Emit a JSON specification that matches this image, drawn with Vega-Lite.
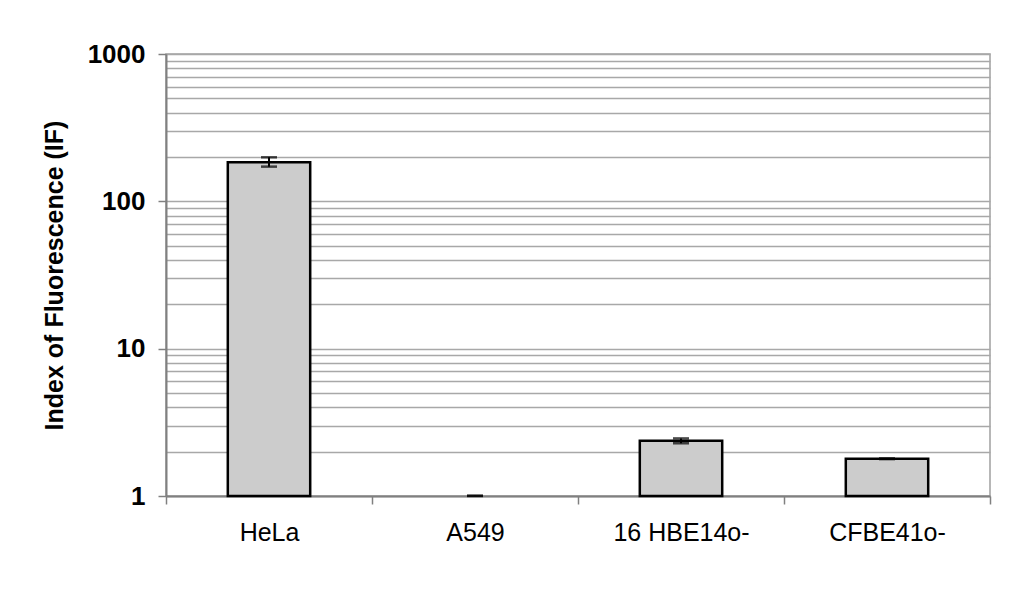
{
  "$schema": "https://vega.github.io/schema/vega-lite/v6.json",
  "width": 824,
  "height": 442,
  "autosize": {"type": "none"},
  "padding": {"left": 166, "top": 54, "right": 34, "bottom": 95},
  "background": "white",
  "config": {
    "font": "Liberation Sans",
    "view": {"stroke": "#a0a0a0", "strokeWidth": 1.5}
  },
  "data": {
    "values": [
      {"cell": "HeLa", "value": 184, "lo": 172, "hi": 199},
      {"cell": "A549", "value": 1.0, "lo": 1.0, "hi": 1.005},
      {"cell": "16 HBE14o-", "value": 2.37, "lo": 2.28, "hi": 2.46},
      {"cell": "CFBE41o-", "value": 1.79, "lo": 1.78, "hi": 1.8}
    ]
  },
  "encoding": {
    "x": {
      "field": "cell",
      "type": "nominal",
      "sort": null,
      "scale": {"domain": ["HeLa", "A549", "16 HBE14o-", "CFBE41o-"], "paddingInner": 0, "paddingOuter": 0},
      "axis": {
        "title": null,
        "labelAngle": 0,
        "labelFont": "Liberation Sans",
        "labelFontSize": 25,
        "labelColor": "black",
        "labelPadding": 16,
        "tickBand": "extent",
        "tickSize": 8,
        "tickColor": "#808080",
        "tickWidth": 1.5,
        "domainColor": "#808080",
        "domainWidth": 2,
        "grid": false
      }
    }
  },
  "layer": [
    {
      "transform": [{"filter": "datum.value > 1"}],
      "mark": {"type": "bar", "width": {"band": 0.4}, "fill": "#cccccc", "stroke": "black", "strokeWidth": 2.5},
      "encoding": {
        "y": {
          "field": "value",
          "type": "quantitative",
          "scale": {"type": "log", "domain": [1, 1000], "nice": false},
          "axis": {
            "title": "Index of Fluorescence (IF)",
            "titleFont": "Liberation Sans",
            "titleFontSize": 25,
            "titleFontWeight": "bold",
            "titleColor": "black",
            "titlePadding": 20,
            "values": [1,2,3,4,5,6,7,8,9,10,20,30,40,50,60,70,80,90,100,200,300,400,500,600,700,800,900,1000],
            "format": "d",
            "labelExpr": "indexof([1,10,100,1000], datum.value) >= 0 ? datum.label : ''",
            "labelOverlap": false,
            "labelFlush": false,
            "labelFont": "Liberation Sans",
            "labelFontSize": 26,
            "labelFontWeight": "bold",
            "labelColor": "black",
            "labelPadding": 13,
            "tickSize": 8,
            "tickColor": "#808080",
            "tickWidth": 1.5,
            "tickOpacity": {"condition": {"test": "indexof([1,10,100,1000], datum.value) >= 0", "value": 1}, "value": 0},
            "domainColor": "#808080",
            "domainWidth": 2,
            "grid": true,
            "gridColor": "#a8a8a8",
            "gridWidth": 1.5
          }
        },
        "y2": {"datum": 1}
      }
    },
    {
      "mark": {"type": "rule", "color": "black", "strokeWidth": 2},
      "encoding": {
        "y": {"field": "lo", "type": "quantitative"},
        "y2": {"field": "hi"}
      }
    },
    {
      "mark": {"type": "tick", "color": "black", "thickness": 2.5, "size": 16, "orient": "horizontal"},
      "encoding": {"y": {"field": "lo", "type": "quantitative"}}
    },
    {
      "mark": {"type": "tick", "color": "black", "thickness": 2.5, "size": 16, "orient": "horizontal"},
      "encoding": {"y": {"field": "hi", "type": "quantitative"}}
    }
  ]
}
